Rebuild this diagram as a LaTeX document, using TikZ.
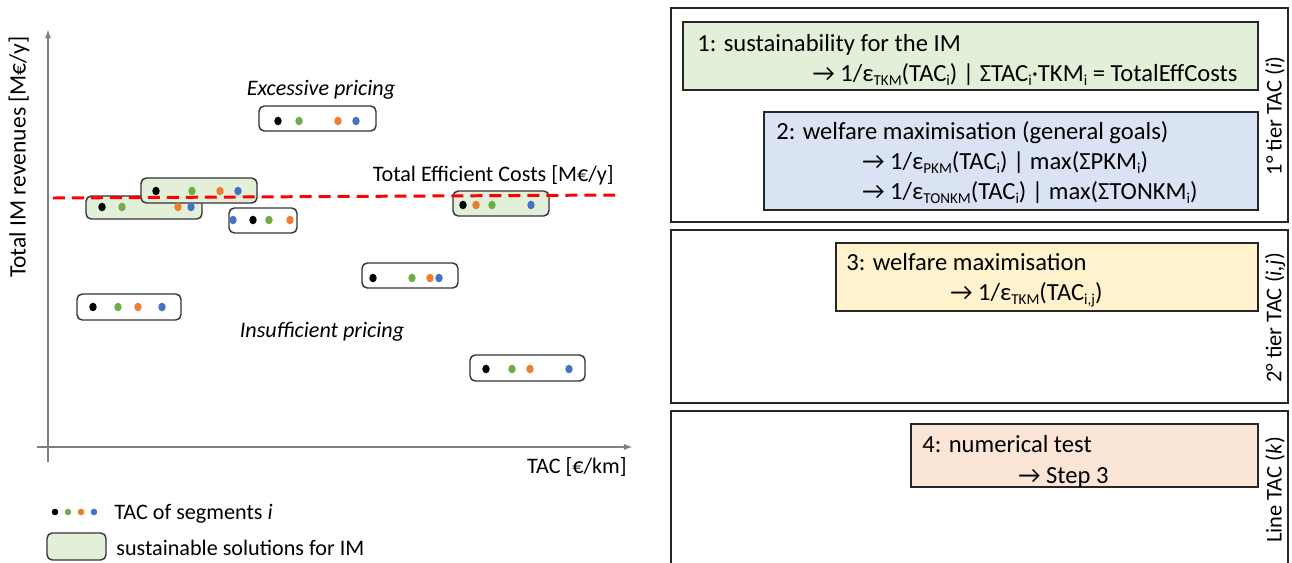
\documentclass[tikz,border=0pt]{standalone}
\usepackage{fontspec}
\setmainfont{Carlito}

\definecolor{okgreen}{HTML}{E2F0D9}
\definecolor{stepblue}{HTML}{DAE3F3}
\definecolor{stepyellow}{HTML}{FFF2CC}
\definecolor{steprose}{HTML}{FBE5D6}
\definecolor{seggreen}{HTML}{70AD47}
\definecolor{segorange}{HTML}{ED7D31}
\definecolor{segblue}{HTML}{4472C4}

% index below the line
\newcommand{\idx}[1]{\raisebox{-2.6pt}{\fontsize{8.6}{9}\selectfont #1}}

% one row of segment TACs: y, black, green, orange, blue
\newcommand{\segdots}[5]{%
  \fill[black]     (#2,#1) ellipse [x radius=3.7,y radius=4.3];
  \fill[seggreen]  (#3,#1) ellipse [x radius=3.7,y radius=4.3];
  \fill[segorange] (#4,#1) ellipse [x radius=3.7,y radius=4.3];
  \fill[segblue]   (#5,#1) ellipse [x radius=3.7,y radius=4.3];}

\begin{document}
\begin{tikzpicture}[x=0.02cm,y=-0.02cm,
    every node/.style={inner sep=0pt,font=\fontsize{12.6}{15}\selectfont},
    steptext/.style={anchor=base west,font=\fontsize{14}{17}\selectfont},
    segbox/.style={draw=black!80,line width=0.8pt,rounded corners=3pt},
    okbox/.style={segbox,fill=okgreen},
    axis/.style={draw=black!50,line width=0.6pt},
    tier/.style={draw=black!85,line width=0.9pt},
    stepbox/.style={draw=black!85,line width=0.9pt},
    tierlabel/.style={rotate=90,anchor=center,font=\fontsize{12.8}{15}\selectfont}]
 \useasboundingbox (0,0) rectangle (1292,562);

 % left: revenues vs TAC
 \draw[axis,-latex] (48,462) -- (48,30);
 \draw[axis,-latex] (37,447) -- (632,447);
 \node[tierlabel,font=\fontsize{13.4}{16}\selectfont] (ylab) at (19,157) {Total IM revenues [M€/y]};
 \node[anchor=base east] (xlab) at (627,473) {TAC [€/km]};
 \node (excess) at (321,90) {\itshape Excessive pricing};
 \node (insuff) at (322,332) {\itshape Insufficient pricing};
 \node[anchor=base east] (effcost) at (614,181) {Total Efficient Costs [M€/y]};

 \draw[segbox] (259,106) rectangle (376,131);
 \draw[okbox]  (86,196) rectangle (202,219);
 \draw[okbox]  (141,178) rectangle (257,203);
 \draw[segbox] (229,208) rectangle (297,233);
 \draw[okbox]  (453,191) rectangle (549,216);
 \draw[segbox] (362,263) rectangle (458,288);
 \draw[segbox] (77,294) rectangle (181,320);
 \draw[segbox] (470,355) rectangle (585,381);

 \draw[red,line width=1.7pt,dash pattern=on 6.8pt off 4pt] (53,198) -- (615,195);

 \segdots{121}{278}{299}{338}{356}
 \segdots{207}{102}{122}{178}{191}
 \segdots{191}{156}{192}{220}{238}
 \segdots{220}{253}{269}{290}{233}
 \segdots{205}{463}{492}{476}{531}
 \segdots{278}{373}{412}{430}{439}
 \segdots{307}{93}{118}{138}{162}
 \segdots{369}{486}{512}{530}{569}

 % legend
 \fill[black]     (55,512) circle [radius=3.3];
 \fill[seggreen]  (68,512) circle [radius=3.3];
 \fill[segorange] (81,512) circle [radius=3.3];
 \fill[segblue]   (94,512) circle [radius=3.3];
 \node[anchor=base west] (legdots) at (114,519) {TAC of segments \textit{i}};
 \draw[okbox] (47,533) rectangle (106,560);
 \node[anchor=base west] (legok) at (116,555) {sustainable solutions for IM};

 % right: tiers
 \draw[tier] (671,8) rectangle (1288,222);
 \draw[tier] (671,230) rectangle (1288,403);
 \draw[tier] (671,411) rectangle (1288,570);
 \node[tierlabel] (tier1) at (1275,116) {1° tier TAC (\textit{i})};
 \node[tierlabel] (tier2) at (1275,318) {2° tier TAC (\textit{i,j})};
 \node[tierlabel] (tier3) at (1275,490) {Line TAC (\textit{k})};

 \draw[stepbox,fill=okgreen] (683,22) rectangle (1258,90);
 \node[steptext] (s1a) at (697,51) {1: sustainability for the IM};
 \node[steptext,anchor=base east] (s1b) at (1238,81)
   {→ 1/ε\idx{TKM}(TAC\idx{i}) | ΣTAC\idx{i}·TKM\idx{i} = TotalEffCosts};

 \draw[stepbox,fill=stepblue] (764,112) rectangle (1258,210);
 \node[steptext] (s2a) at (776,139) {2: welfare maximisation (general goals)};
 \node[steptext] (s2b) at (862,169)
   {→ 1/ε\idx{PKM}(TAC\idx{i}) | max(ΣPKM\idx{i})};
 \node[steptext] (s2c) at (862,199)
   {→ 1/ε\idx{TONKM}(TAC\idx{i}) | max(ΣTONKM\idx{i})};

 \draw[stepbox,fill=stepyellow] (836,243) rectangle (1258,311);
 \node[steptext] (s3a) at (846,270) {3: welfare maximisation};
 \node[steptext] (s3b) at (950,300)
   {→ 1/ε\idx{TKM}(TAC\idx{i,j})};

 \draw[stepbox,fill=steprose] (911,424) rectangle (1258,487);
 \node[steptext] (s4a) at (922,452) {4: numerical test};
 \node[steptext] (s4b) at (1018,483) {→ Step 3};
\end{tikzpicture}
\end{document}
